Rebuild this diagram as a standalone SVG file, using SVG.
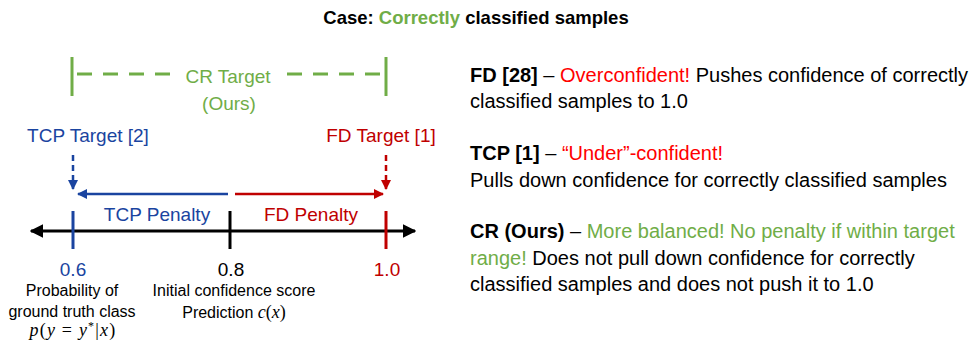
<svg xmlns="http://www.w3.org/2000/svg" width="980" height="340" viewBox="0 0 980 340">
<style>
text{font-family:"Liberation Sans",Arial,sans-serif;fill:#000}
.b{font-weight:bold}
.g{fill:#70AD47}
.bl{fill:#1A44A0}
.rd{fill:#C00000}
.r{fill:#FF0000}
.m{font-family:"Liberation Serif","Times New Roman",serif;font-style:italic}
.mu{font-family:"Liberation Serif","Times New Roman",serif}
</style>
<defs>
<marker id="ab" viewBox="0 0 10 10" refX="9" refY="5" markerWidth="4" markerHeight="4" orient="auto"><path d="M0,0 L10,5 L0,10 z" fill="#1A44A0"/></marker>
<marker id="ar" viewBox="0 0 10 10" refX="9" refY="5" markerWidth="4" markerHeight="4" orient="auto"><path d="M0,0 L10,5 L0,10 z" fill="#C00000"/></marker>
<marker id="ak" viewBox="0 0 10 10" refX="9" refY="5" markerWidth="4.5" markerHeight="4.5" orient="auto"><path d="M0,0 L10,5 L0,10 z" fill="#000"/></marker>
</defs>
<text x="476" y="24" text-anchor="middle" font-size="18.5" class="b">Case: <tspan class="g">Correctly</tspan> classified samples</text>

<g id="cr-target">
<line x1="72" y1="57" x2="72" y2="96" stroke="#70AD47" stroke-width="3"/>
<line x1="386" y1="57" x2="386" y2="96" stroke="#70AD47" stroke-width="3"/>
<line x1="77" y1="74" x2="172" y2="74" stroke="#70AD47" stroke-width="3" stroke-dasharray="15 11"/>
<line x1="380" y1="74" x2="285" y2="74" stroke="#70AD47" stroke-width="3" stroke-dasharray="15 11"/>
<text x="228" y="83" text-anchor="middle" font-size="19" class="g">CR Target</text>
<text x="229" y="110" text-anchor="middle" font-size="19" class="g">(Ours)</text>
</g>

<g id="tcp-target">
<text x="88" y="142" text-anchor="middle" font-size="19" class="bl">TCP Target [2]</text>
</g>
<g id="fd-target">
<text x="381" y="142" text-anchor="middle" font-size="19" class="rd">FD Target [1]</text>
</g>

<g id="connectors">
<line x1="73" y1="155" x2="73" y2="189" stroke="#1A44A0" stroke-width="2.5" stroke-dasharray="6 4" marker-end="url(#ab)"/>
<line x1="386" y1="155" x2="386" y2="189" stroke="#C00000" stroke-width="2.5" stroke-dasharray="6 4" marker-end="url(#ar)"/>
<line x1="228" y1="194" x2="78" y2="194" stroke="#1A44A0" stroke-width="2.5" marker-end="url(#ab)"/>
<line x1="235" y1="194" x2="383" y2="194" stroke="#C00000" stroke-width="2.5" marker-end="url(#ar)"/>
<line x1="230" y1="231" x2="31" y2="231" stroke="#000" stroke-width="3" marker-end="url(#ak)"/>
<line x1="230" y1="231" x2="415" y2="231" stroke="#000" stroke-width="3" marker-end="url(#ak)"/>
</g>

<g id="tcp-penalty"><text x="157" y="221" text-anchor="middle" font-size="19" class="bl">TCP Penalty</text></g>
<g id="fd-penalty"><text x="311" y="221" text-anchor="middle" font-size="19" class="rd">FD Penalty</text></g>

<g id="tick-06">
<line x1="73" y1="211" x2="73" y2="249" stroke="#1A44A0" stroke-width="3"/>
<text x="73" y="276" text-anchor="middle" font-size="19" class="bl">0.6</text>
<text x="72" y="296" text-anchor="middle" font-size="16">Probability of</text>
<text x="72" y="317" text-anchor="middle" font-size="16">ground truth class</text>
<text x="73" y="336" text-anchor="middle" font-size="18" letter-spacing="1.2"><tspan class="m">p</tspan><tspan class="mu">(</tspan><tspan class="m">y</tspan><tspan class="mu"> = </tspan><tspan class="m">y</tspan><tspan class="mu" dy="-6" font-size="12">*</tspan><tspan class="mu" dy="6">|</tspan><tspan class="m">x</tspan><tspan class="mu">)</tspan></text>
</g>
<g id="tick-08">
<line x1="230" y1="211" x2="230" y2="249" stroke="#000" stroke-width="3"/>
<text x="231" y="276" text-anchor="middle" font-size="19">0.8</text>
<text x="234" y="296" text-anchor="middle" font-size="16">Initial confidence score</text>
<text x="234" y="318" text-anchor="middle" font-size="16">Prediction <tspan class="m" font-size="18">c</tspan><tspan class="mu" font-size="18">(</tspan><tspan class="m" font-size="18">x</tspan><tspan class="mu" font-size="18">)</tspan></text>
</g>
<g id="tick-10">
<line x1="386" y1="211" x2="386" y2="249" stroke="#C00000" stroke-width="3"/>
<text x="387" y="276" text-anchor="middle" font-size="19" class="rd">1.0</text>
</g>

<g id="descriptions">
<text x="470" y="82" font-size="20"><tspan class="b">FD [28]</tspan> – <tspan class="r">Overconfident!</tspan> Pushes confidence of correctly</text>
<text x="470" y="108" font-size="20">classified samples to 1.0</text>
<text x="470" y="160" font-size="20"><tspan class="b">TCP [1]</tspan> – <tspan class="r">“Under”-confident!</tspan></text>
<text x="470" y="187" font-size="20">Pulls down confidence for correctly classified samples</text>
<text x="470" y="238" font-size="20"><tspan class="b">CR (Ours)</tspan> – <tspan class="g">More balanced! No penalty if within target</tspan></text>
<text x="470" y="265" font-size="20"><tspan class="g">range!</tspan> Does not pull down confidence for correctly</text>
<text x="470" y="291" font-size="20">classified samples and does not push it to 1.0</text>
</g>
</svg>
